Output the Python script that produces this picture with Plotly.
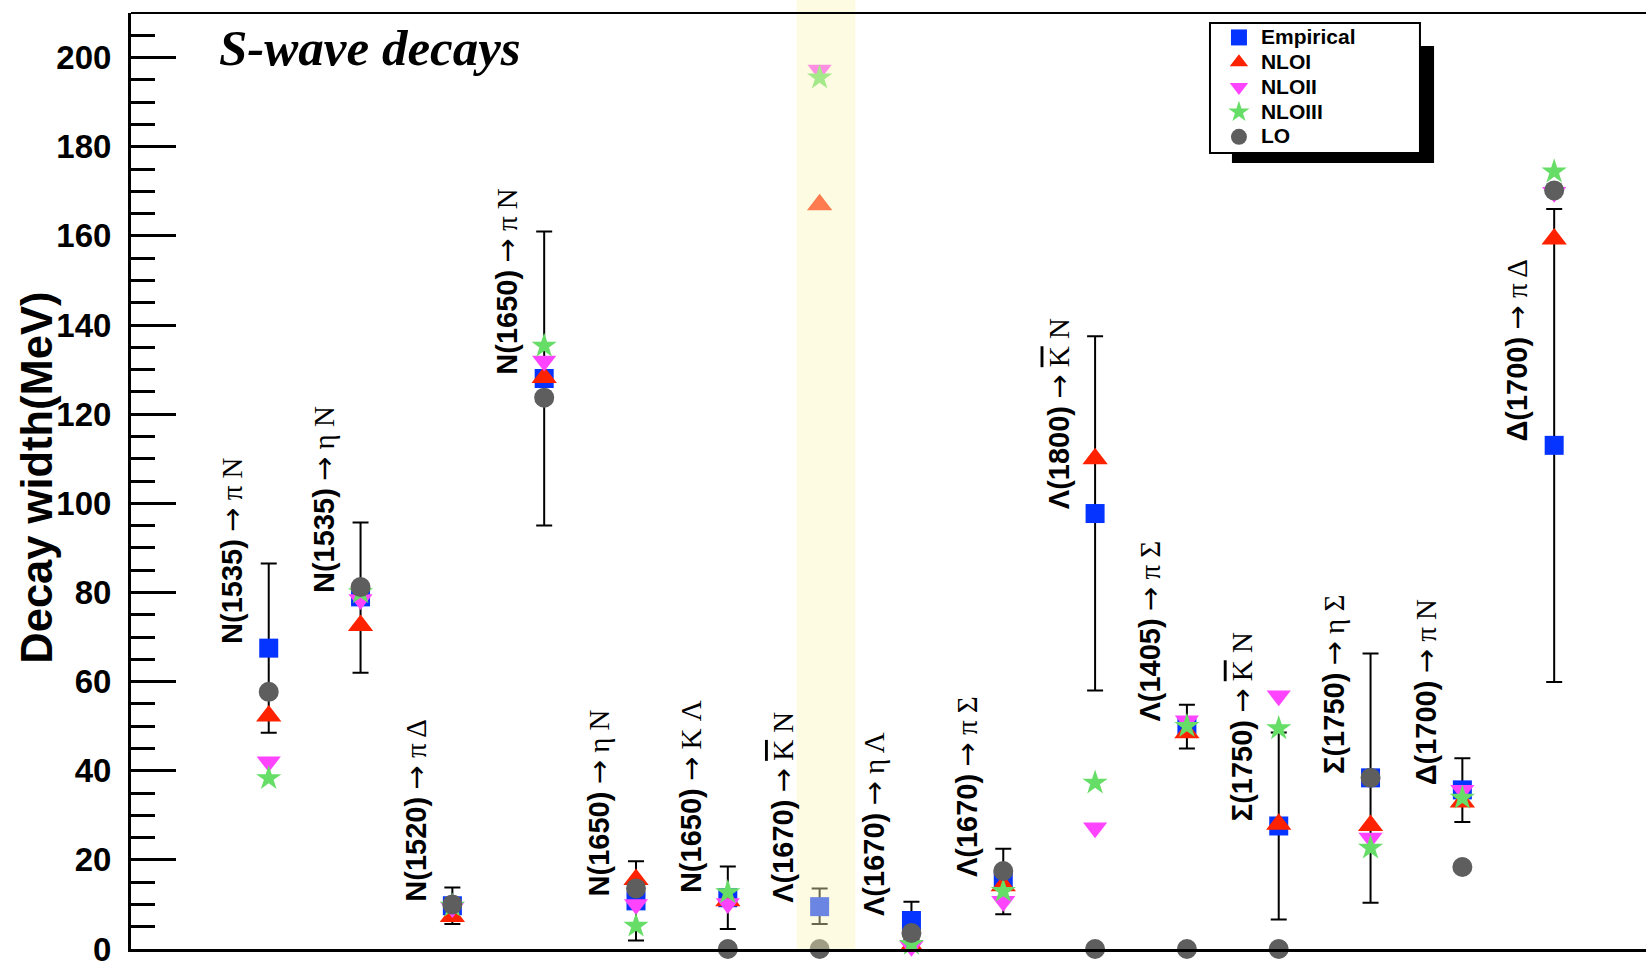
import plotly.graph_objects as go

# ---------------- data ----------------
resonances = ["N(1535)", "N(1535)", "N(1520)", "N(1650)", "N(1650)", "N(1650)",
              "Λ(1670)", "Λ(1670)", "Λ(1670)", "Λ(1800)", "Λ(1405)",
              "Σ(1750)", "Σ(1750)", "Δ(1700)", "Δ(1700)"]
products_a = ["π", "η", "π", "π", "η", "K", "K", "η", "π", "K", "π", "K", "η", "π", "π"]
products_a_bar = [False, False, False, False, False, False, True, False, False,
                  True, False, True, False, False, False]
products_b = ["N", "N", "Δ", "N", "N", "Λ", "N", "Λ", "Σ", "N", "Σ", "N", "Σ", "N", "Δ"]
positions = list(range(1, 16))

empirical = [67.5, 79.0, 9.7, 128.0, 10.8, 11.5, 9.5, 6.4, 15.2, 97.7, 50.0, 27.6, 38.4, 35.7, 113.0]
emp_err_up = [19.0, 16.7, 4.1, 33.0, 8.9, 7.0, 4.1, 4.2, 7.3, 39.8, 4.8, 21.0, 27.9, 7.1, 53.0]
emp_err_down = [19.0, 17.0, 4.1, 33.0, 8.9, 7.0, 3.9, 4.2, 7.4, 39.7, 5.0, 21.0, 28.0, 7.2, 53.1]
nlo1 = [52.3, 72.6, 7.3, 128.2, 15.6, 10.8, 167.0, 0.6, 14.2, 110.0, 48.5, 28.0, 27.7, 33.0, 159.3]
nlo2 = [42.0, 78.4, 9.3, 131.9, 10.0, 10.2, 197.2, 0.6, 10.7, 27.2, 51.2, 56.8, 24.9, 35.6, 169.8]
nlo3 = [38.3, 80.0, 9.7, 135.3, 5.2, 12.7, 195.5, 1.1, 13.0, 37.3, 50.0, 49.5, 22.7, 33.9, 174.4]
lo = [57.7, 81.2, 10.0, 123.7, 13.6, 0.0, 0.0, 3.6, 17.5, 0.0, 0.0, 0.0, 38.4, 18.4, 170.2]

series_names = ["Empirical", "NLOI", "NLOII", "NLOIII", "LO"]
series_colors = ["#0533ff", "#ff2200", "#ff44ff", "#66dd66", "#5e5e5e"]
series_symbols = ["square", "triangle-up", "triangle-down", "star", "circle"]
series_sizes = [19, 22, 21, 19, 20]
highlight_range = [6.75, 7.39]

SANS = "Liberation Sans"
SERIF = "Liberation Serif"

fig = go.Figure()

# error bars of the empirical widths (drawn first, behind markers)
fig.add_trace(go.Scatter(
    x=positions, y=empirical, mode="markers",
    marker=dict(size=1, color="rgba(0,0,0,0)"),
    error_y=dict(type="data", array=emp_err_up, arrayminus=emp_err_down,
                 color="black", thickness=2, width=8, symmetric=False),
    showlegend=False, hoverinfo="skip", cliponaxis=False))

all_series = [empirical, nlo1, nlo2, nlo3, lo]
for name, vals, col, sym, sz in zip(series_names, all_series, series_colors,
                                    series_symbols, series_sizes):
    fig.add_trace(go.Scatter(
        x=positions, y=vals, mode="markers",
        name=f'<span style="font-size:21px">{name}</span>',
        marker=dict(symbol=sym, size=sz, color=col, line=dict(width=0)),
        cliponaxis=False))

# rotated decay-channel labels
for xi, res, pa, bar, pb, ye in zip(positions, resonances, products_a, products_a_bar,
                                    products_b, empirical):
    pa_txt = f'<span style="text-decoration:overline">{pa}</span>' if bar else pa
    txt = (f'<span style="font-family:{SANS};font-weight:bold">{res}</span> '
           f'<span style="font-family:DejaVu Sans">→</span> {pa_txt} {pb}')
    fig.add_annotation(x=xi - 0.40, y=ye + 0.5, xref="x", yref="y",
                       text=txt, textangle=-90, showarrow=False,
                       xanchor="center", yanchor="bottom",
                       font=dict(family=SERIF, size=29, color="black"))

# y-axis title
fig.add_annotation(x=-0.062, y=0.5036, xref="paper", yref="paper",
                   text="Decay width(MeV)", textangle=-90, showarrow=False,
                   xanchor="center", yanchor="middle",
                   font=dict(family=SANS, size=43.5, color="black", weight="bold"))

# plot title
fig.add_annotation(x=0.057, y=0.963, xref="paper", yref="paper",
                   text="<b><i>S-wave decays</i></b>", showarrow=False,
                   xanchor="left", yanchor="middle",
                   font=dict(family=SERIF, size=51, color="black"))

shapes = [
    # highlight band
    dict(type="rect", xref="x", yref="paper", x0=highlight_range[0], x1=highlight_range[1],
         y0=0, y1=1.02, fillcolor="rgba(250,248,185,0.42)", line=dict(width=0), layer="above"),
    # top frame line
    dict(type="line", xref="paper", yref="paper", x0=0, x1=1, y0=1, y1=1,
         line=dict(color="black", width=2), layer="above"),
    # legend shadow
    dict(type="rect", xref="paper", yref="paper", x0=0.7267, x1=0.8601, y0=0.8397, y1=0.9647,
         fillcolor="black", line=dict(width=0), layer="above"),
    # legend box
    dict(type="rect", xref="paper", yref="paper", x0=0.7122, x1=0.8508, y0=0.8504, y1=0.9893,
         fillcolor="white", line=dict(color="black", width=2), layer="above"),
]

fig.update_layout(
    width=1646, height=963,
    margin=dict(l=131, r=0, t=13, b=14, autoexpand=False),
    paper_bgcolor="white", plot_bgcolor="white",
    shapes=shapes,
    showlegend=True,
    legend=dict(x=0.7168, y=0.9925, xanchor="left", yanchor="top",
                bgcolor="rgba(0,0,0,0)", borderwidth=0,
                font=dict(family=SANS, size=16.8, color="black", weight="bold"),
                itemsizing="trace", itemwidth=34, tracegroupgap=0),
    xaxis=dict(range=[-0.5, 16.0], showline=True, linewidth=3, linecolor="black",
               showticklabels=False, ticks="", showgrid=False, zeroline=False,
               automargin=False),
    yaxis=dict(range=[0, 210], showline=True, linewidth=3, linecolor="black",
               ticks="inside", ticklen=45, tickwidth=3, tickcolor="black",
               tick0=0, dtick=20, showgrid=False, zeroline=False, automargin=False,
               ticklabelstandoff=10, ticklabeloverflow="allow",
               tickfont=dict(family=SANS, size=33, color="black", weight="bold"),
               minor=dict(ticks="inside", ticklen=24, tickwidth=3, tickcolor="black",
                          dtick=5, showgrid=False)),
)

fig.write_html("out.html")
